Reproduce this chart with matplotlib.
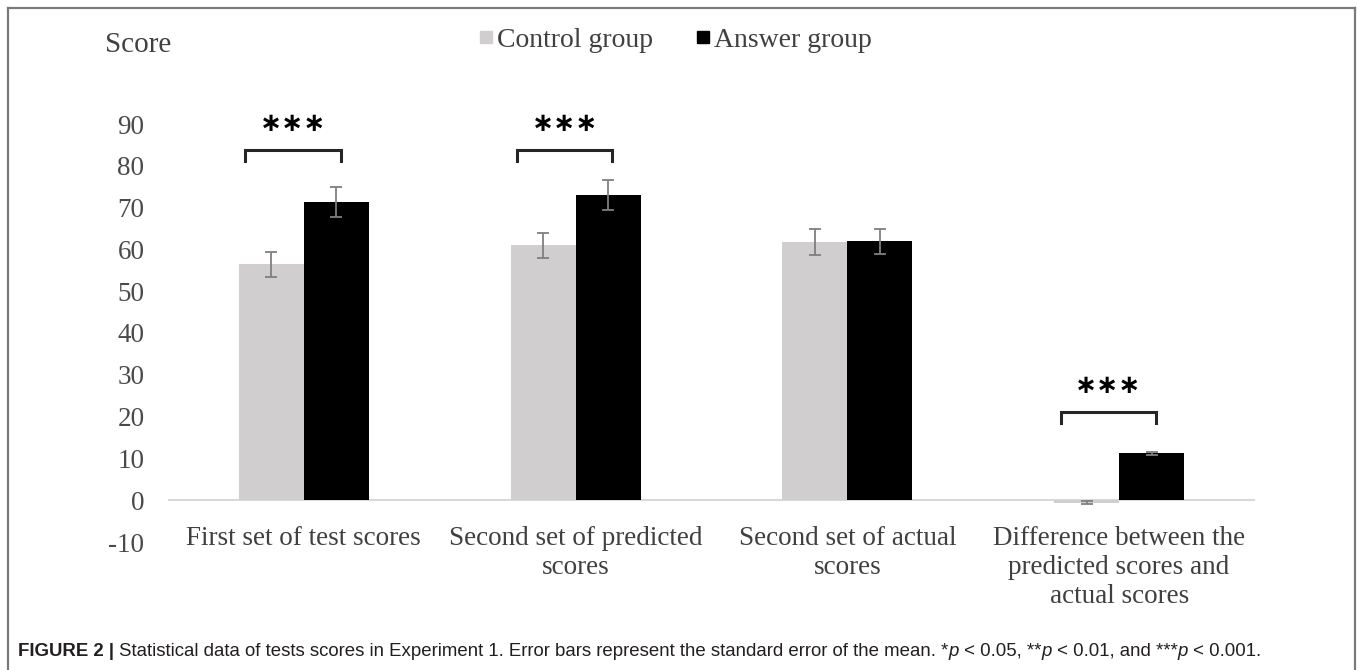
import matplotlib
matplotlib.use('Agg')
import matplotlib.pyplot as plt
from matplotlib.lines import Line2D
import numpy as np

plt.rcParams['font.family'] = ['Liberation Serif', 'DejaVu Serif']

categories = ['First set of test scores', 'Second set of predicted\nscores',
              'Second set of actual\nscores',
              'Difference between the\npredicted scores and\nactual scores']
control = [56.4, 61.0, 61.7, -0.6]
answer = [71.4, 73.0, 61.9, 11.2]
control_se = [2.9, 3.0, 3.1, 0.4]
answer_se = [3.6, 3.6, 3.0, 0.4]
yticks = [-10, 0, 10, 20, 30, 40, 50, 60, 70, 80, 90]

# significance brackets: (category index, bracket height, star height)
sig = [(0, 83.8, 90.0), (1, 83.7, 90.0), (3, 21.0, 27.3)]

W, H = 1357, 670
fig = plt.figure(figsize=(W / 100, H / 100), dpi=100)
ax = fig.add_axes([168 / W, 1 - 542 / H, 1087 / W, 418 / H])

x = np.arange(len(categories))
bw = 0.239
ekw = dict(ecolor='#7f7f7f', elinewidth=1.3, capsize=4.5, capthick=1.3)
ax.bar(x - bw / 2, control, bw, color='#d0cece', yerr=control_se,
       error_kw=ekw, zorder=2, label='Control group')
ax.bar(x + bw / 2, answer, bw, color='black', yerr=answer_se,
       error_kw=ekw, zorder=2, label='Answer group')
ax.axhline(0, color='#d9d9d9', lw=1.5, zorder=1)

ax.set_xlim(-0.5, len(categories) - 0.5)
ax.set_ylim(-10, 90)
ax.set_yticks(yticks)
ax.set_yticklabels([str(t) for t in yticks], fontsize=19.5, color='#4a4a4a')
ax.tick_params(axis='y', length=0, pad=17)
ax.set_xticks([])
for s in ax.spines.values():
    s.set_visible(False)

for i, c in enumerate(categories):
    ax.text(x[i], 0.038, c, transform=ax.get_xaxis_transform(), ha='center',
            va='top', fontsize=19.5, color='#404040', linespacing=1.22)

for i, yb, ys in sig:
    x0, x1 = x[i] - 0.215, x[i] + 0.135
    ax.plot([x0, x0, x1, x1], [yb - 2.6, yb, yb, yb - 2.6], color='#262626',
            lw=2.2, solid_joinstyle='miter', clip_on=False)
    ax.text((x0 + x1) / 2, ys, '\u2217\u2217\u2217', ha='center', va='center',
            fontsize=19, family='DejaVu Sans', weight='bold', clip_on=False)

fig.text(105 / W, 1 - 45 / H, 'Score', fontsize=21, color='#404040',
         va='center', ha='left')

# legend
handles = [Line2D([], [], marker='s', ls='none', color='#d0cece', markersize=9),
           Line2D([], [], marker='s', ls='none', color='black', markersize=9)]
fig.legend(handles, ['Control group', 'Answer group'], loc='center',
           bbox_to_anchor=(672 / W, 1 - 40 / H), ncol=2, frameon=False,
           fontsize=20, handletextpad=-0.1, columnspacing=1.3,
           handlelength=1.0, labelcolor='#404040')

# frame around the figure panel
for xs, ys in [([8, 8], [670, 8]), ([8, 1355], [8, 8]), ([1355, 1355], [8, 670])]:
    fig.add_artist(Line2D([v / W for v in xs], [1 - v / H for v in ys],
                          color='#7a7a7a', lw=1.6))

# caption, pieces with different styles
cap = [('FIGURE 2 | ', 'bold', 'normal'),
       ('Statistical data of tests scores in Experiment 1. Error bars represent '
        'the standard error of the mean. *', 'normal', 'normal'),
       ('p', 'normal', 'italic'), (' < 0.05, **', 'normal', 'normal'),
       ('p', 'normal', 'italic'), (' < 0.01, and ***', 'normal', 'normal'),
       ('p', 'normal', 'italic'), (' < 0.001.', 'normal', 'normal')]
fig.canvas.draw()
r = fig.canvas.get_renderer()
xpos = 18
for txt, wt, st in cap:
    t = fig.text(xpos / W, 1 - 651 / H, txt, fontsize=13.4, weight=wt, style=st,
                 family=['Liberation Sans Narrow', 'Liberation Sans'],
                 va='center', ha='left', color='#231f20')
    xpos += t.get_window_extent(r).width

fig.savefig('out.png', dpi=100)
